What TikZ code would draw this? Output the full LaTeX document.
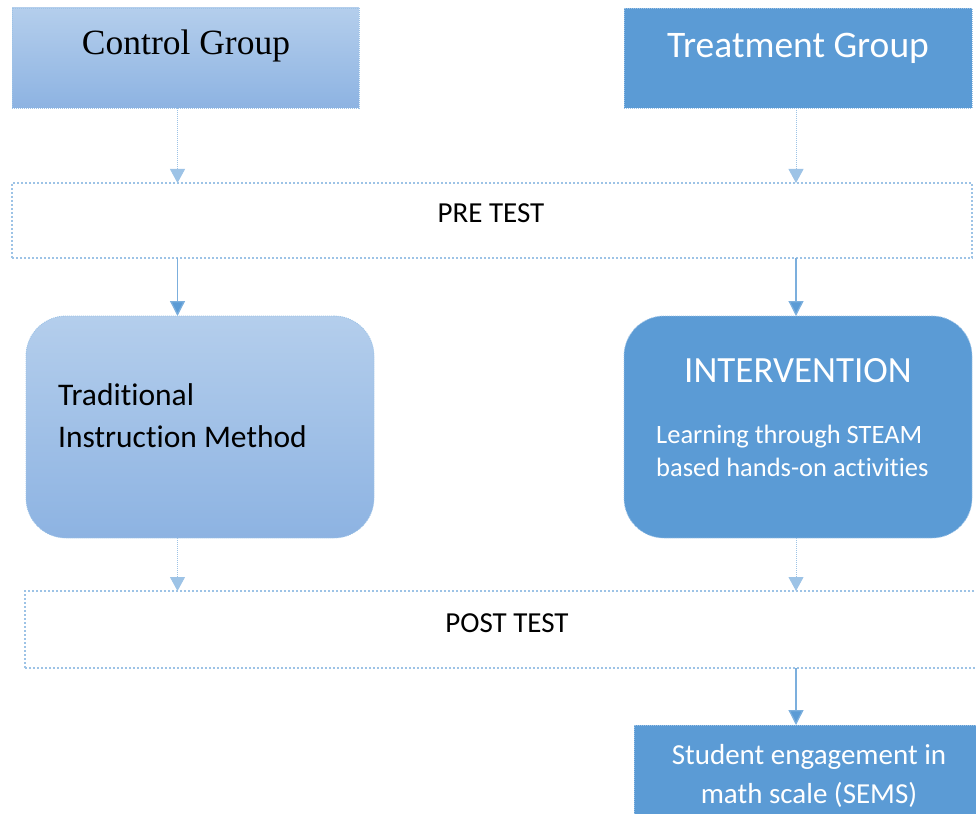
\documentclass[tikz,border=0pt]{standalone}
\usepackage{fontspec}
\setmainfont{Carlito}[Ligatures=NoCommon]
\newfontfamily\grpserif{Liberation Serif}
\usetikzlibrary{arrows.meta,positioning}
\definecolor{paleblue}{HTML}{B4CEEC}
\definecolor{midblue}{HTML}{8DB3E2}
\definecolor{mainblue}{HTML}{5B9BD5}
\definecolor{edgeblue}{HTML}{9DC3E6}
\tikzset{
  lightbox/.style={top color=paleblue, bottom color=midblue, draw=edgeblue, line width=0.8pt, dash pattern=on 1pt off 1pt, outer sep=0pt, anchor=north west},
  darkbox/.style={fill=mainblue, draw=edgeblue, line width=0.8pt, dash pattern=on 1pt off 1pt, outer sep=0pt, anchor=north west},
  testbox/.style={fill=white, draw=edgeblue, line width=1.8pt, dash pattern=on 2pt off 2pt, outer sep=0pt, anchor=north west},
  dotarrow/.style={draw=edgeblue, line width=0.9pt, dash pattern=on 1pt off 1pt, -{Triangle[width=15pt,length=14pt,fill=edgeblue]}},
  fullarrow/.style={draw=mainblue!80, line width=1.3pt, -{Triangle[width=15pt,length=15pt,fill=mainblue]}}
}
\begin{document}
\begin{tikzpicture}[x=1pt, y=-1pt]
  \useasboundingbox (0,0) rectangle (976,813);
  \clip (0,0) rectangle (976,813);
  % groups
  \node[lightbox, minimum width=347, minimum height=100] (ctrl) at (12,8) {};
  \node[darkbox, minimum width=348, minimum height=100] (treat) at (624,8) {};
  \node[font=\grpserif\fontsize{35.5}{40}\selectfont] (ctrltxt) at (186,46) {Control Group};
  \node[text=white, font=\fontsize{37.5}{42}\selectfont] (treattxt) at (798,48) {Treatment Group};
  % pre test
  \node[testbox, minimum width=960, minimum height=75] (pre) at (12,183) {};
  \node[font=\fontsize{29}{34}\selectfont] (pretxt) at (491,213) {PRE TEST};
  % methods
  \node[lightbox, rounded corners=40, minimum width=348, minimum height=222] (trad) at (26,316) {};
  \node[darkbox, rounded corners=40, minimum width=348, minimum height=222] (interv) at (624,316) {};
  \node[anchor=west, align=left, inner sep=0pt, font=\fontsize{31.5}{42}\selectfont] (tradtxt) at (58,416) {Traditional\\Instruction Method};
  \node[text=white, font=\fontsize{37}{42}\selectfont] (intervtxt) at (798,371) {INTERVENTION};
  \node[anchor=west, align=left, inner sep=0pt, text=white, font=\fontsize{26.5}{33}\selectfont] (steamtxt) at (656,451) {Learning through STEAM\\based hands-on activities};
  % post test
  \node[testbox, minimum width=960, minimum height=77] (post) at (25,591) {};
  \node[font=\fontsize{29}{34}\selectfont] (posttxt) at (507,623) {POST TEST};
  % outcome
  \node[darkbox, minimum width=350, minimum height=100] (sems) at (634,725) {};
  \node[align=center, text=white, font=\fontsize{29}{39}\selectfont] (semstxt) at (809,776) {Student engagement in\\math scale (SEMS)};
  % connectors
  \draw[dotarrow] ([xshift=-8]ctrl.south) -- ([xshift=-8]ctrl.south |- pre.north);
  \draw[dotarrow] ([xshift=-2]treat.south) -- ([xshift=-2]treat.south |- pre.north);
  \draw[fullarrow] ([xshift=-8]ctrl.south |- pre.south) -- ([xshift=-8]ctrl.south |- trad.north);
  \draw[fullarrow] ([xshift=-2]treat.south |- pre.south) -- ([xshift=-2]treat.south |- interv.north);
  \draw[dotarrow] ([xshift=-8]ctrl.south |- trad.south) -- ([xshift=-8]ctrl.south |- post.north);
  \draw[dotarrow] ([xshift=-2]treat.south |- interv.south) -- ([xshift=-2]treat.south |- post.north);
  \draw[fullarrow] ([xshift=-2]treat.south |- post.south) -- ([xshift=-2]treat.south |- sems.north);
\end{tikzpicture}
\end{document}
